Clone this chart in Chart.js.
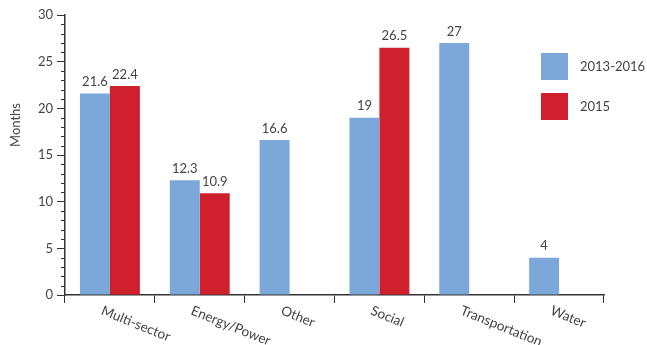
<!DOCTYPE html>
<html>
<head>
<meta charset="utf-8">
<script src="https://cdn.jsdelivr.net/npm/chart.js@4"></script>
<style>
  html, body { margin: 0; padding: 0; background: #fff; }
  #wrap { width: 647px; height: 345px; }
</style>
</head>
<body>
<div id="wrap"><canvas id="chart" width="647" height="345"></canvas></div>
<script>
// Data
const categories = ['Multi-sector', 'Energy/Power', 'Other', 'Social', 'Transportation', 'Water'];
const series2013 = [21.6, 12.3, 16.6, 19, 27, 4];
const series2015 = [22.4, 10.9, null, 26.5, null, null];
const seriesLabels = ['2013-2016', '2015'];
const yTicks = [0, 5, 10, 15, 20, 25, 30];

const BLUE = '#7ba7d9';
const RED = '#d0202e';
const TEXT = '#444';
const AXIS = '#333';
const FONT = 'Lato, "Open Sans", sans-serif';

// Bar value labels, rotated x labels, minor ticks, axis title, legend
const extras = {
    id: 'extras',
    afterDraw(chart) {
        const ctx = chart.ctx;
        const x = chart.scales.x;
        const y = chart.scales.y;
        ctx.save();

        // minor ticks on y axis
        ctx.strokeStyle = AXIS;
        ctx.lineWidth = 1;
        for (let v = 0; v <= 30; v++) {
            if (v % 5 === 0) continue;
            const py = Math.round(y.getPixelForValue(v)) + 0.5;
            ctx.beginPath();
            ctx.moveTo(y.right - 4, py);
            ctx.lineTo(y.right, py);
            ctx.stroke();
        }

        // value labels above bars
        ctx.font = '13px ' + FONT;
        ctx.fillStyle = TEXT;
        ctx.textAlign = 'center';
        ctx.textBaseline = 'bottom';
        chart.data.datasets.forEach((ds, i) => {
            chart.getDatasetMeta(i).data.forEach((bar, j) => {
                const v = ds.data[j];
                if (v === null) return;
                ctx.fillText(String(v), bar.x, bar.y - 5);
            });
        });

        // rotated category labels
        ctx.font = '13.5px ' + FONT;
        ctx.textAlign = 'left';
        ctx.textBaseline = 'middle';
        categories.forEach((c, i) => {
            const px = x.getPixelForValue(i);
            ctx.save();
            ctx.translate(px - 8, x.top + 15);
            ctx.rotate(22 * Math.PI / 180);
            ctx.fillText(c, 0, 0);
            ctx.restore();
        });
        ctx.font = '13px ' + FONT;

        // y axis title
        ctx.save();
        ctx.translate(16, 125);
        ctx.rotate(-Math.PI / 2);
        ctx.textAlign = 'center';
        ctx.textBaseline = 'middle';
        ctx.fillText('Months', 0, 0);
        ctx.restore();

        // legend
        const colors = [BLUE, RED];
        seriesLabels.forEach((lab, i) => {
            const top = 53 + i * 40;
            ctx.fillStyle = colors[i];
            ctx.fillRect(541, top, 27, 27);
            ctx.fillStyle = TEXT;
            ctx.textAlign = 'left';
            ctx.fillText(lab, 580, top + 14);
        });

        ctx.restore();
    }
};

new Chart(document.getElementById('chart'), {
    type: 'bar',
    data: {
        labels: categories,
        datasets: [
            { label: seriesLabels[0], data: series2013, backgroundColor: BLUE },
            { label: seriesLabels[1], data: series2015, backgroundColor: RED }
        ]
    },
    options: {
        responsive: false,
        animation: false,
        layout: { padding: { top: 15, right: 43, left: 0, bottom: 0 } },
        plugins: {
            legend: { display: false },
            tooltip: { enabled: false }
        },
        datasets: {
            bar: { categoryPercentage: 0.667, barPercentage: 1 }
        },
        scales: {
            x: {
                grid: { offset: true, drawOnChartArea: false, tickLength: 8, color: AXIS },
                border: { color: AXIS, width: 1.5 },
                ticks: { display: false },
                afterFit: s => { s.height = 50; }
            },
            y: {
                min: 0,
                max: 30,
                afterBuildTicks: s => { s.ticks = yTicks.map(v => ({ value: v })); },
                grid: { drawOnChartArea: false, tickLength: 8, color: AXIS },
                border: { color: AXIS, width: 1.5 },
                ticks: { color: TEXT, font: { family: FONT, size: 13 }, padding: 4 },
                afterFit: s => { s.width = 65; }
            }
        }
    },
    plugins: [extras]
});
</script>
</body>
</html>
